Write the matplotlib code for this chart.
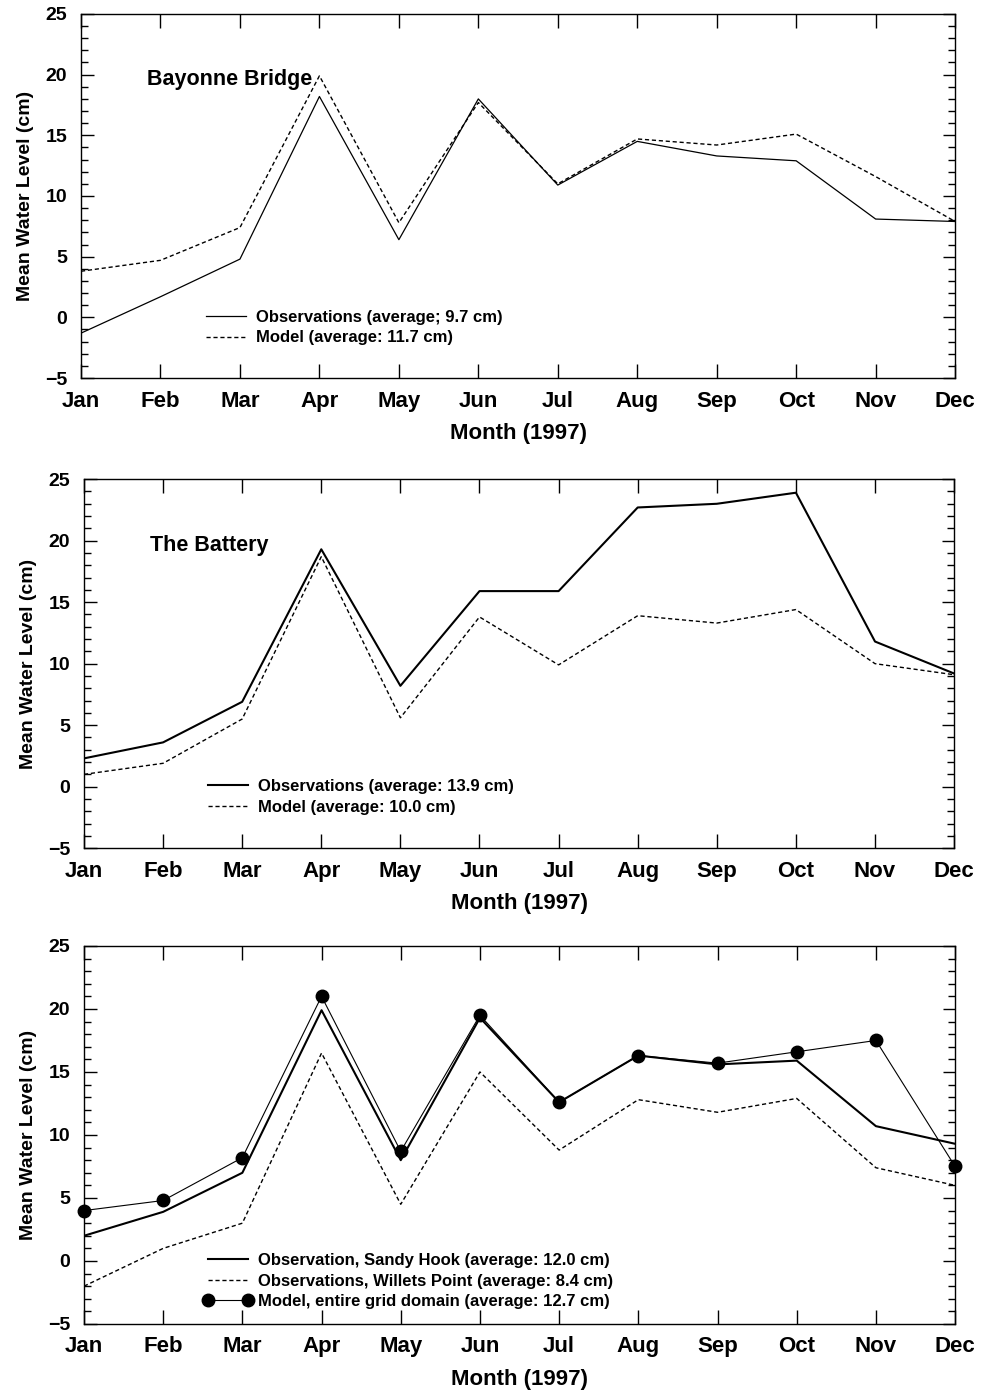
"""
Monthly mean water level, observations vs. model, 1997
"""
import numpy as np
import matplotlib
matplotlib.use("Agg")
import matplotlib.pyplot as plt
from matplotlib.ticker import MultipleLocator

MONTHS = ['Jan', 'Feb', 'Mar', 'Apr', 'May', 'Jun',
          'Jul', 'Aug', 'Sep', 'Oct', 'Nov', 'Dec']

# Bayonne Bridge (cm)
bayonne_obs = [-1.3, 1.7, 4.8, 18.2, 6.4, 18.0, 10.9, 14.5, 13.3, 12.9, 8.1, 7.9]
bayonne_model = [3.8, 4.7, 7.4, 19.9, 7.8, 17.7, 11.0, 14.7, 14.2, 15.1, 11.6, 7.9]

# The Battery (cm)
battery_obs = [2.3, 3.6, 6.9, 19.3, 8.2, 15.9, 15.9, 22.7, 23.0, 23.9, 11.8, 9.2]
battery_model = [1.0, 1.9, 5.5, 18.7, 5.6, 13.8, 9.9, 13.9, 13.3, 14.4, 10.0, 9.1]

# Sandy Hook / Willets Point / whole grid (cm)
sandy_hook_obs = [2.0, 3.9, 7.0, 19.9, 8.0, 19.3, 12.6, 16.3, 15.6, 15.9, 10.7, 9.3]
willets_point_obs = [-2.0, 1.0, 3.0, 16.5, 4.5, 15.0, 8.8, 12.8, 11.8, 12.9, 7.4, 6.0]
grid_model = [4.0, 4.8, 8.2, 21.0, 8.7, 19.5, 12.6, 16.3, 15.7, 16.6, 17.5, 7.5]

FONT = 'Liberation Sans'
DASH = (0, (3, 2))


def main():
    plt.rcParams['font.family'] = FONT
    plt.rcParams['font.weight'] = 'bold'

    fig = plt.figure(figsize=(9.81, 13.95), dpi=100)
    x = np.arange(1, 13)

    # top panel
    ax1 = fig.add_axes([0.0826, 0.729, 0.891, 0.261])
    ax1.plot(x, bayonne_obs, color='black', lw=0.9,
             label='Observations (average; 9.7 cm)')
    ax1.plot(x, bayonne_model, color='black', lw=1.0, linestyle=DASH,
             label='Model (average: 11.7 cm)')
    style_axes(ax1, 'Bayonne Bridge')

    # middle panel
    ax2 = fig.add_axes([0.0856, 0.392, 0.887, 0.2645])
    ax2.plot(x, battery_obs, color='black', lw=1.5,
             label='Observations (average: 13.9 cm)')
    ax2.plot(x, battery_model, color='black', lw=1.0, linestyle=DASH,
             label='Model (average: 10.0 cm)')
    style_axes(ax2, 'The Battery')

    # bottom panel
    ax3 = fig.add_axes([0.0856, 0.0509, 0.888, 0.271])
    ax3.plot(x, sandy_hook_obs, color='black', lw=1.5,
             label='Observation, Sandy Hook (average: 12.0 cm)')
    ax3.plot(x, willets_point_obs, color='black', lw=1.0, linestyle=DASH,
             label='Observations, Willets Point (average: 8.4 cm)')
    ax3.plot(x, grid_model, color='black', lw=0.8, marker='o', markersize=9,
             clip_on=False, zorder=3,
             label='Model, entire grid domain (average: 12.7 cm)')
    style_axes(ax3, None)

    fig.savefig("out.png", dpi=100)


def style_axes(ax, title):
    """
    Common frame, ticks, labels and legend for one panel.
    """
    ax.set_xlim(1, 12)
    ax.set_ylim(-5, 25)
    ax.set_xticks(np.arange(1, 13))
    ax.set_xticklabels(MONTHS)
    ax.yaxis.set_major_locator(MultipleLocator(5))
    ax.yaxis.set_minor_locator(MultipleLocator(1))

    ax.tick_params(which='both', direction='in', top=True, right=True, width=1)
    ax.tick_params(axis='x', which='major', length=10, labelsize=16, pad=9)
    ax.tick_params(axis='y', which='major', length=9, labelsize=14, pad=10)
    ax.tick_params(axis='y', which='minor', length=5)
    for lbl in ax.get_xticklabels() + ax.get_yticklabels():
        lbl.set_fontweight('bold')
    for sp in ax.spines.values():
        sp.set_linewidth(1)

    ax.set_xlabel('Month (1997)', fontsize=16, fontweight='bold', labelpad=8)
    ax.set_ylabel('Mean Water Level (cm)', fontsize=14, fontweight='bold', labelpad=8)

    if title:
        ax.text(0.0755, 0.821, title, transform=ax.transAxes, fontsize=15.5,
                fontweight='bold', ha='left', va='center')

    leg = ax.legend(loc='upper left', bbox_to_anchor=(0.137, 0.187),
                    frameon=False, numpoints=2, handlelength=3.0,
                    handletextpad=0.3, labelspacing=0.33, borderpad=0,
                    borderaxespad=0, prop={'family': FONT, 'weight': 'bold', 'size': 12})
    return leg


if __name__ == "__main__":
    main()
